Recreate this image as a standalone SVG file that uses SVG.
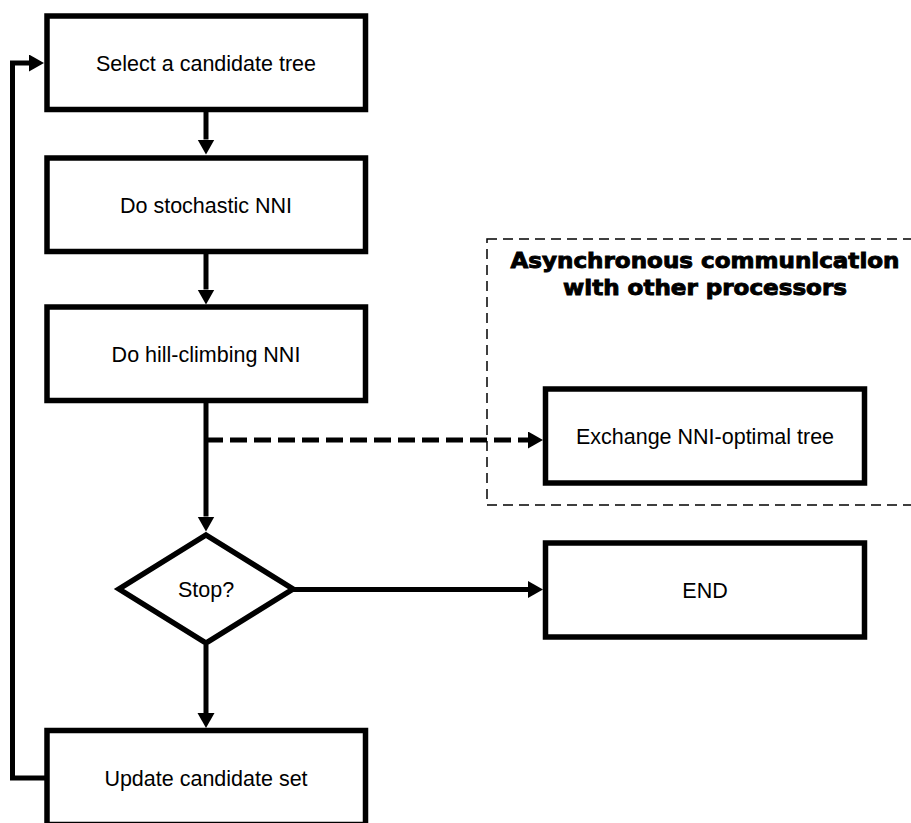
<svg xmlns="http://www.w3.org/2000/svg" width="911" height="823" viewBox="0 0 911 823">
<style>
.box{fill:#fff;stroke:#000;stroke-width:5.5}
.lbl{font-family:"Liberation Sans",Arial,sans-serif;font-size:21.5px;fill:#000;text-anchor:middle}
.ttl{font-family:"DejaVu Sans","Liberation Sans",sans-serif;font-weight:bold;font-size:21px;fill:#000;stroke:#000;stroke-width:0.9;text-anchor:middle}
.ln{fill:none;stroke:#000;stroke-width:5}
.dash{stroke-dasharray:17 7}
</style>
<defs>
<marker id="ah" markerUnits="userSpaceOnUse" markerWidth="16" markerHeight="18" refX="0" refY="8.5" orient="auto" viewBox="0 0 16 18">
<path d="M0,0 L15,8.5 L0,17 z" fill="#000"/>
</marker>
</defs>
<rect x="487" y="239" width="440" height="266" fill="none" stroke="#000" stroke-width="1.5" stroke-dasharray="10 6"/>
<g id="title">
<text class="ttl" x="705" y="268" textLength="389" lengthAdjust="spacingAndGlyphs">Asynchronous communication</text>
<text class="ttl" x="705" y="295" textLength="284" lengthAdjust="spacingAndGlyphs">with other processors</text>
</g>
<g id="connectors">
<path class="ln" d="M206,112 V139.5" marker-end="url(#ah)"/>
<path class="ln" d="M206,253 V289.5" marker-end="url(#ah)"/>
<path class="ln" d="M206,402 V516.5" marker-end="url(#ah)"/>
<path class="ln dash" d="M206,440 H528" marker-end="url(#ah)"/>
<path class="ln" d="M293,589.5 H528" marker-end="url(#ah)"/>
<path class="ln" d="M206,645 V713" marker-end="url(#ah)"/>
<path class="ln" d="M47,778 H12.5 V63 H29" marker-end="url(#ah)"/>
</g>
<g id="select"><rect class="box" x="47" y="16" width="318.5" height="93.5"/><text class="lbl" x="206" y="71">Select a candidate tree</text></g>
<g id="stochastic"><rect class="box" x="47" y="158" width="318.5" height="93.5"/><text class="lbl" x="206" y="212.5">Do stochastic NNI</text></g>
<g id="hillclimb"><rect class="box" x="47" y="307" width="318.5" height="93.5"/><text class="lbl" x="206" y="361.5">Do hill-climbing NNI</text></g>
<g id="exchange"><rect class="box" x="545.5" y="389" width="319" height="94"/><text class="lbl" x="705" y="443.5">Exchange NNI-optimal tree</text></g>
<g id="stop"><polygon class="box" points="206,535 293,589 206,643 119,589"/><text class="lbl" x="206" y="597">Stop?</text></g>
<g id="end"><rect class="box" x="545.5" y="543" width="319" height="94"/><text class="lbl" x="705" y="598">END</text></g>
<g id="update"><rect class="box" x="47" y="730.5" width="318.5" height="94"/><text class="lbl" x="206" y="786">Update candidate set</text></g>
</svg>
